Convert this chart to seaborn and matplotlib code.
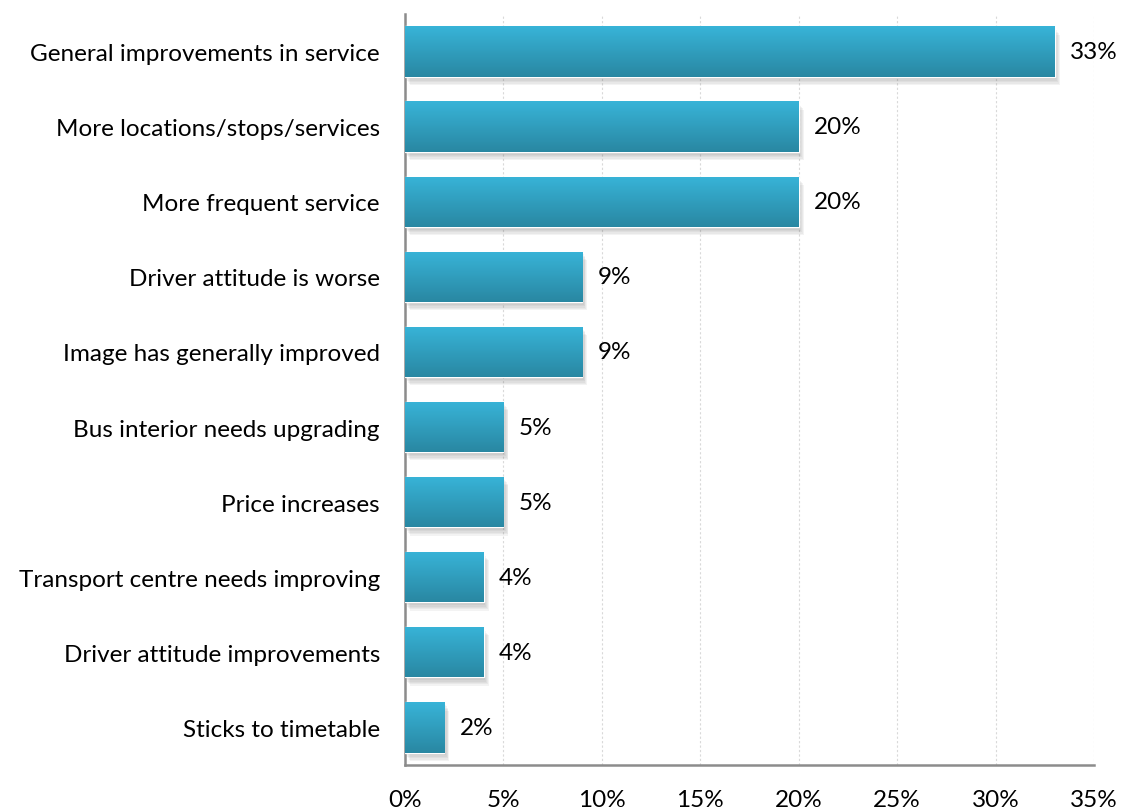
import matplotlib
matplotlib.use("Agg")
import matplotlib.pyplot as plt
import matplotlib.patheffects as pe
import numpy as np
import pandas as pd
import seaborn as sns

categories = [
    "General improvements in service",
    "More locations/stops/services",
    "More frequent service",
    "Driver attitude is worse",
    "Image has generally improved",
    "Bus interior needs upgrading",
    "Price increases",
    "Transport centre needs improving",
    "Driver attitude improvements",
    "Sticks to timetable",
]
values = [33, 20, 20, 9, 9, 5, 5, 4, 4, 2]
x_ticks = [0, 5, 10, 15, 20, 25, 30, 35]

df = pd.DataFrame({"category": categories, "value": values})

sns.set_theme(style="white")
plt.rcParams["font.family"] = ["Lato", "DejaVu Sans"]
plt.rcParams["text.color"] = "black"
plt.rcParams["xtick.color"] = "black"
plt.rcParams["ytick.color"] = "black"

FS = 17.5

fig = plt.figure(figsize=(11.23, 8.12), dpi=100)
ax = fig.add_axes([0.3606, 0.0567, 0.6136, 0.9249])

sns.barplot(data=df, y="category", x="value", orient="h", width=0.67,
            color="#34ADD2", ax=ax, zorder=3)

# gradient fill + soft layered shadow for each bar
grad = np.linspace(0, 1, 256).reshape(-1, 1)
top = np.array([0x38, 0xB4, 0xD8]) / 255
bot = np.array([0x29, 0x87, 0xA2]) / 255
img = (top + (bot - top) * grad).reshape(256, 1, 3)
shadow = [
    pe.SimplePatchShadow(offset=(o * 0.6, -o), shadow_rgbFace="#606060", alpha=0.07)
    for o in (1, 2, 3, 4, 5, 6)
]
for p in ax.patches:
    x0, y0 = p.get_x(), p.get_y()
    w, h = p.get_width(), p.get_height()
    p.set_path_effects(shadow + [pe.Normal()])
    im = ax.imshow(img, extent=[x0, x0 + w, y0 + h, y0], aspect="auto",
                   zorder=4, interpolation="bilinear")
    im.set_clip_path(p)

for c in ax.containers:
    ax.bar_label(c, labels=[f"{v}%" for v in values], padding=11,
                 fontsize=FS, color="black")

ax.set_xlim(0, 35)
ax.set_ylim(len(categories) - 0.5, -0.5)
ax.set_xticks(x_ticks)
ax.set_xticklabels([f"{t}%" for t in x_ticks], fontsize=FS)
ax.set_xlabel("")
ax.set_ylabel("")
ax.tick_params(axis="y", which="major", length=0, labelsize=FS, pad=18)
ax.set_yticks(np.arange(-0.5, len(categories) + 0.5, 1), minor=True)
ax.tick_params(axis="y", which="minor", length=5, width=1.8, color="#8C8C8C", direction="out")
ax.tick_params(axis="x", which="major", length=5, width=1.8, color="#8C8C8C", direction="out", pad=12)

ax.grid(axis="x", color="#D9D9D9", linestyle=(0, (2, 2)), linewidth=0.8, zorder=0)
ax.set_axisbelow(True)
for s in ["top", "right"]:
    ax.spines[s].set_visible(False)
for s in ["left", "bottom"]:
    ax.spines[s].set_color("#8C8C8C")
    ax.spines[s].set_linewidth(1.8)

fig.savefig("out.png", dpi=100)
